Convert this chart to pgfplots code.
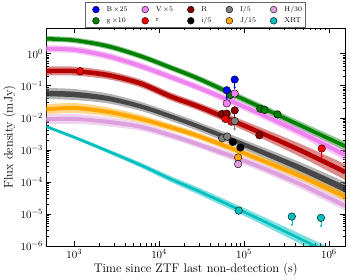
\documentclass[border=0pt]{standalone}
\usepackage{pgfplots}
\pgfplotsset{compat=1.18}
\usepgfplotslibrary{fillbetween}
\usetikzlibrary{arrows.meta}
\definecolor{cB}{rgb}{0,0,1}
\definecolor{cV}{HTML}{EE82EE}
\definecolor{cR}{HTML}{8B0000}
\definecolor{cI}{HTML}{808080}
\definecolor{cH}{HTML}{DDA0DD}
\definecolor{cg}{HTML}{008000}
\definecolor{cr}{HTML}{FF0000}
\definecolor{ci}{HTML}{000000}
\definecolor{cJ}{HTML}{FFA500}
\definecolor{cX}{HTML}{00BFBF}
\definecolor{cRband}{HTML}{B40000}
\begin{document}
\begin{tikzpicture}
\begin{axis}[
  scale only axis, width=300pt, height=219pt,
  xmode=log, ymode=log,
  xmin=470, xmax=1.55e6, ymin=1e-6, ymax=6.4,
  xtick={1e3,1e4,1e5,1e6},
  ytick={1e-6,1e-5,1e-4,1e-3,1e-2,1e-1,1},
  tick align=inside, major tick length=5pt, minor tick length=2.5pt,
  tick style={black, line width=0.5pt},
  axis line style={line width=0.6pt},
  xlabel={Time since ZTF last non-detection (s)},
  ylabel={Flux density (mJy)},
  label style={font=\fontsize{12.5}{14}\selectfont},
  tick label style={font=\fontsize{11}{13}\selectfont},
  xlabel style={yshift=2pt},
  ylabel style={yshift=-2pt},
  legend columns=5,
  legend cell align=left,
  legend image code/.code={\path (0pt,0pt) (17pt,0pt); \draw[#1] plot coordinates {(8.5pt,0pt)};},
  legend style={at={(0.5,1)}, anchor=south, font=\fontsize{7}{8.5}\selectfont,
    draw=black!60, line width=0.5pt, inner sep=1.5pt, row sep=0.5pt,
    /tikz/every even column/.append style={column sep=7pt}},
]
% ---- model bands (outer faint envelope + solid core) ----
\addplot[draw=none, name path=gU, smooth, forget plot] coordinates {(460,3.571) (1000,3.208) (2506,2.119) (6095,1.036) (13710,0.4554) (30830,0.1958) (118900,0.03864) (458000,0.00773) (1560000,0.001785)};
\addplot[draw=none, name path=gL, smooth, forget plot] coordinates {(460,2.392) (1000,2.149) (2506,1.380) (6095,0.675) (13710,0.2965) (30830,0.1239) (118900,0.02342) (458000,0.004362) (1560000,0.000938)};
\addplot[cg, fill opacity=0.45, draw=none, forget plot] fill between[of=gU and gL];
\addplot[cg, line width=3.6pt, smooth, forget plot] coordinates {(460,2.923) (1000,2.626) (2506,1.710) (6095,0.8362) (13710,0.3674) (30830,0.1558) (118900,0.03009) (458000,0.005807) (1560000,0.001293)};

\addplot[draw=none, name path=vU, smooth, forget plot] coordinates {(460,1.837) (1000,1.710) (2506,1.074) (6095,0.5254) (13710,0.2393) (30830,0.1051) (118900,0.02427) (458000,0.004858) (1560000,0.000972)};
\addplot[draw=none, name path=vL, smooth, forget plot] coordinates {(460,1.113) (1000,1.036) (2506,0.651) (6095,0.3185) (13710,0.1451) (30830,0.06373) (118900,0.0137) (458000,0.002551) (1560000,0.000475)};
\addplot[cV, fill opacity=0.45, draw=none, forget plot] fill between[of=vU and vL];
\addplot[cV, line width=4pt, smooth, forget plot] coordinates {(460,1.430) (1000,1.331) (2506,0.8362) (6095,0.4090) (13710,0.1863) (30830,0.08185) (118900,0.01824) (458000,0.003520) (1560000,0.000680)};

\addplot[draw=none, name path=rU, smooth, forget plot] coordinates {(460,0.3948) (1000,0.3948) (2506,0.2902) (6095,0.1558) (13710,0.06149) (30830,0.02801) (118900,0.0067) (458000,0.001547) (1560000,0.000357)};
\addplot[draw=none, name path=rL, smooth, forget plot] coordinates {(460,0.2074) (1000,0.2074) (2506,0.1591) (6095,0.08791) (13710,0.0347) (30830,0.0158) (118900,0.003277) (458000,0.00061) (1560000,0.0001137)};
\addplot[cRband, fill opacity=0.45, draw=none, forget plot] fill between[of=rU and rL];
\addplot[cRband, line width=4.6pt, smooth, forget plot] coordinates {(460,0.2862) (1000,0.2862) (2506,0.2150) (6095,0.1170) (13710,0.04620) (30830,0.02104) (118900,0.004687) (458000,0.000972) (1560000,0.0002015)};

\addplot[draw=none, name path=iU, smooth, forget plot] coordinates {(460,0.08483) (1000,0.07898) (2506,0.05724) (6095,0.03118) (13710,0.01524) (30830,0.006944) (118900,0.001722) (458000,0.000412) (1560000,0.0000986)};
\addplot[draw=none, name path=iL, smooth, forget plot] coordinates {(460,0.03864) (1000,0.03597) (2506,0.02801) (6095,0.01638) (13710,0.008015) (30830,0.003648) (118900,0.000842) (458000,0.0001747) (1560000,0.0000362)};
\addplot[cI, fill opacity=0.6, draw=none, forget plot] fill between[of=iU and iL];
\addplot[draw=none, name path=kU, smooth, forget plot] coordinates {(460,0.06967) (1000,0.06489) (2506,0.04787) (6095,0.02654) (13710,0.01298) (30830,0.005911) (118900,0.00144) (458000,0.0003324) (1560000,0.0000767)};
\addplot[draw=none, name path=kL, smooth, forget plot] coordinates {(460,0.04703) (1000,0.04378) (2506,0.03348) (6095,0.01924) (13710,0.00941) (30830,0.004285) (118900,0.001007) (458000,0.0002165) (1560000,0.0000465)};
\addplot[ci, fill opacity=0.6, draw=none, forget plot] fill between[of=kU and kL];

\addplot[draw=none, name path=jU, smooth, forget plot] coordinates {(460,0.02607) (1000,0.02902) (2506,0.02104) (6095,0.01231) (13710,0.006464) (30830,0.003277) (118900,0.000842) (458000,0.0002015) (1560000,0.0000465)};
\addplot[draw=none, name path=jL, smooth, forget plot] coordinates {(460,0.01275) (1000,0.0142) (2506,0.01105) (6095,0.006944) (13710,0.003918) (30830,0.001987) (118900,0.000511) (458000,0.0001137) (1560000,0.0000244)};
\addplot[cJ, fill opacity=0.45, draw=none, forget plot] fill between[of=jU and jL];
\addplot[cJ, line width=4pt, smooth, forget plot] coordinates {(460,0.01824) (1000,0.02029) (2506,0.01524) (6095,0.00924) (13710,0.005033) (30830,0.002551) (118900,0.000656) (458000,0.0001514) (1560000,0.0000337)};

\addplot[draw=none, name path=hU, smooth, forget plot] coordinates {(460,0.01275) (1000,0.01322) (2506,0.01029) (6095,0.006944) (13710,0.003648) (30830,0.001785) (118900,0.000511) (458000,0.0001179) (1560000,0.0000253)};
\addplot[draw=none, name path=hL, smooth, forget plot] coordinates {(460,0.006237) (1000,0.006464) (2506,0.005406) (6095,0.003918) (13710,0.002212) (30830,0.001082) (118900,0.0002882) (458000,0.0000619) (1560000,0.0000124)};
\addplot[cH, fill opacity=0.45, draw=none, forget plot] fill between[of=hU and hL];
\addplot[cH, line width=4pt, smooth, forget plot] coordinates {(460,0.008920) (1000,0.00924) (2506,0.007460) (6095,0.005218) (13710,0.00284) (30830,0.001390) (118900,0.0003836) (458000,0.0000854) (1560000,0.0000177)};

\addplot[draw=none, name path=xU, smooth, forget plot] coordinates {(460,0.006018) (1000,0.00278) (2506,0.001044) (6095,0.0003975) (13710,0.0001514) (30830,0.0000619) (118900,0.0000124) (458000,2.393e-6) (1560000,5.33e-7)};
\addplot[draw=none, name path=xL, smooth, forget plot] coordinates {(460,0.004858) (1000,0.00218) (2506,0.000784) (6095,0.000278) (13710,0.0000986) (30830,0.0000375) (118900,6.99e-6) (458000,1.17e-6) (1560000,2.26e-7)};
\addplot[cX, fill opacity=0.5, draw=none, forget plot] fill between[of=xU and xL];
\addplot[cX, line width=2.6pt, smooth, forget plot] coordinates {(460,0.005406) (1000,0.002462) (2506,0.000905) (6095,0.0003324) (13710,0.0001222) (30830,0.0000482) (118900,9.31e-6) (458000,1.674e-6) (1560000,3.47e-7)};

% ---- upper-limit arrows ----
\addplot[cB, line width=0.6pt, -{Stealth[length=2.5pt,width=2.5pt]}, forget plot] coordinates {(77800,0.1558) (77800,0.078)};
\addplot[cB, line width=0.6pt, -{Stealth[length=2.5pt,width=2.5pt]}, forget plot] coordinates {(62700,0.07247) (62700,0.0362)};
\addplot[cV, line width=0.6pt, -{Stealth[length=2.5pt,width=2.5pt]}, forget plot] coordinates {(77800,0.05724) (77800,0.0286)};
\addplot[cR, line width=0.6pt, -{Stealth[length=2.5pt,width=2.5pt]}, forget plot] coordinates {(77800,0.01698) (77800,0.0085)};
\addplot[cI, line width=0.6pt, -{Stealth[length=2.5pt,width=2.5pt]}, forget plot] coordinates {(77800,0.0079) (77800,0.00395)};
\addplot[cr, line width=0.6pt, -{Stealth[length=2.5pt,width=2.5pt]}, forget plot] coordinates {(824000,0.001098) (824000,0.00055)};
\addplot[cX, line width=0.6pt, -{Stealth[length=2.5pt,width=2.5pt]}, forget plot] coordinates {(366000,8.24e-6) (366000,4.1e-6)};
\addplot[cX, line width=0.6pt, -{Stealth[length=2.5pt,width=2.5pt]}, forget plot] coordinates {(807000,7.51e-6) (807000,3.75e-6)};

% ---- data points ----
\pgfplotsset{pt/.style={only marks, mark=*, mark size=3.8pt, forget plot, mark options={fill=#1, draw=black, line width=0.4pt}}}
\addplot[pt=cg] coordinates {(69300,0.05142) (155600,0.01917) (175000,0.01759) (248000,0.01275)};
\addplot[pt=cB] coordinates {(77800,0.1558) (62700,0.07247)};
\addplot[pt=cV] coordinates {(77800,0.05724) (62700,0.02801)};
\addplot[pt=cR] coordinates {(55100,0.01322) (62700,0.0135) (77800,0.01698) (151700,0.00284)};
\addplot[pt=cr] coordinates {(1176,0.2820) (60500,0.00924) (71100,0.00757) (824000,0.001098)};
\addplot[pt=cI] coordinates {(77800,0.0079) (55300,0.002292) (63400,0.002588)};
\addplot[pt=ci] coordinates {(73800,0.001759) (90800,0.001179)};
\addplot[pt=cJ] coordinates {(85300,0.000577)};
\addplot[pt=cH] coordinates {(85300,0.000357)};
\addplot[pt=cX] coordinates {(86700,0.00001266) (366000,8.24e-6) (807000,7.51e-6)};

% ---- legend ----
\pgfplotsset{lg/.style={only marks, mark=*, mark size=3.4pt, mark options={fill=#1, draw=black, line width=0.4pt}}}
\addlegendimage{lg=cB}\addlegendentry{B\,$\times$25}
\addlegendimage{lg=cV}\addlegendentry{V\,$\times$5}
\addlegendimage{lg=cR}\addlegendentry{R}
\addlegendimage{lg=cI}\addlegendentry{I/5}
\addlegendimage{lg=cH}\addlegendentry{H/30}
\addlegendimage{lg=cg}\addlegendentry{g\,$\times$10}
\addlegendimage{lg=cr}\addlegendentry{r}
\addlegendimage{lg=ci}\addlegendentry{i/5}
\addlegendimage{lg=cJ}\addlegendentry{J/15}
\addlegendimage{lg=cX}\addlegendentry{XRT}
\end{axis}
\path ([yshift=28pt]current axis.north);
\path ([xshift=5pt]current axis.east);
\path ([yshift=-33pt]current axis.south);
\path ([xshift=-45pt]current axis.west);
\end{tikzpicture}
\end{document}
